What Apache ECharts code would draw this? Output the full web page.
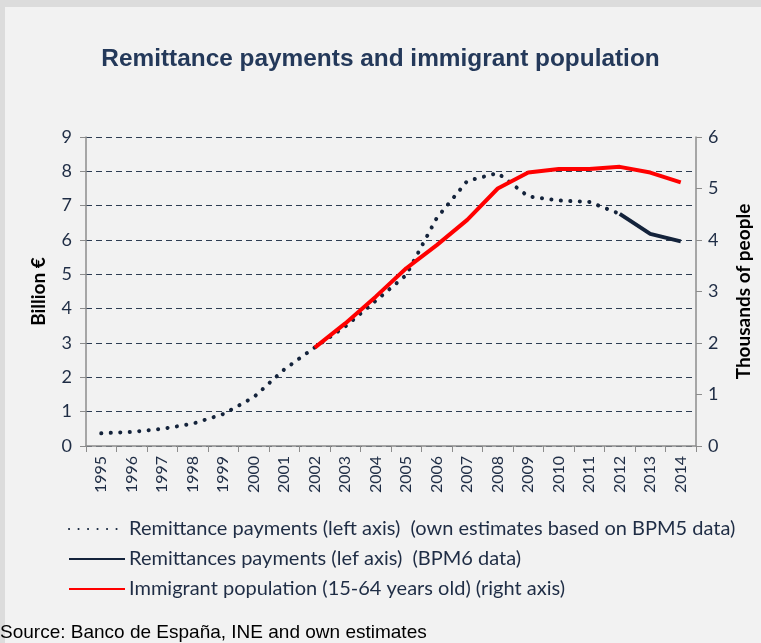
<!DOCTYPE html>
<html>
<head>
<meta charset="utf-8">
<script src="https://cdn.jsdelivr.net/npm/echarts@6/dist/echarts.min.js"></script>
<style>
html,body{margin:0;padding:0;background:#dcdcdc;}
#card{position:absolute;left:5px;top:7px;width:756px;height:636px;background:#f2f2f2;}
#chart{position:absolute;left:0;top:0;width:761px;height:643px;}
</style>
</head>
<body>
<div id="card"></div>
<div id="chart"></div>
<script>
var years = ['1995','1996','1997','1998','1999','2000','2001','2002','2003','2004','2005','2006','2007','2008','2009','2010','2011','2012','2013','2014'];
var remitBPM5 = [0.37,0.41,0.50,0.65,0.93,1.42,2.23,2.87,3.48,4.23,4.98,6.64,7.72,7.95,7.27,7.15,7.11,6.76,null,null];
var remitBPM6 = [null,null,null,null,null,null,null,null,null,null,null,null,null,null,null,null,null,6.76,6.18,5.96];
var population = [null,null,null,null,null,null,null,1.91,2.38,2.90,3.45,3.90,4.39,5.00,5.31,5.38,5.38,5.42,5.31,5.12];
var leftTicks = [0,9,1];
var rightTicks = [0,6,1];
var names = ['Remittance payments (left axis)  (own estimates based on BPM5 data)','Remittances payments (lef axis)  (BPM6 data)','Immigrant population (15-64 years old) (right axis)'];

var navy = '#14233b';
var textCol = '#1f2d45';
var font = 'Lato, "Noto Sans", sans-serif';
var chart = echarts.init(document.getElementById('chart'));
chart.setOption({
  backgroundColor: 'transparent',
  animation: false,
  title: {
    text: 'Remittance payments and immigrant population',
    left: 'center', top: 42,
    textStyle: {fontFamily: '"Liberation Sans", Arial, sans-serif', fontWeight: 'bold', fontSize: 24.4, color: '#24395a'}
  },
  grid: {left: 86, right: 64, top: 137, bottom: 197, containLabel: false},
  legend: {
    orient: 'vertical', left: 63, top: 514, itemWidth: 56, itemHeight: 24, itemGap: 6,
    textStyle: {fontFamily: font, fontSize: 20, color: textCol, padding: [0,0,0,-1]},
    itemStyle: {opacity: 0},
    itemGap: 10,
    data: names
  },
  xAxis: {
    type: 'category', data: years, boundaryGap: true,
    axisLine: {lineStyle: {color: '#8c8c8c', width: 1.5}},
    axisTick: {show: true, alignWithLabel: false, length: 6, lineStyle: {color: '#8c8c8c'}},
    axisLabel: {rotate: 90, fontFamily: font, fontSize: 16, color: textCol, margin: 10, interval: 0}
  },
  yAxis: [{
    type: 'value', min: leftTicks[0], max: leftTicks[1], interval: leftTicks[2], position: 'left',
    name: 'Billion €', nameLocation: 'middle', nameRotate: 90, nameGap: 38,
    nameTextStyle: {fontFamily: font, fontWeight: 'bold', fontSize: 19, color: '#000'},
    axisLine: {show: true, lineStyle: {color: '#8c8c8c', width: 1.5}},
    axisTick: {show: true, length: 6, lineStyle: {color: '#8c8c8c'}},
    axisLabel: {fontFamily: font, fontSize: 18, color: textCol, margin: 14},
    splitLine: {show: true, lineStyle: {color: '#2e3d52', width: 1, type: [6, 4]}}
  }, {
    type: 'value', min: rightTicks[0], max: rightTicks[1], interval: rightTicks[2], position: 'right',
    name: 'Thousands of people', nameLocation: 'middle', nameRotate: 90, nameGap: 38,
    nameTextStyle: {fontFamily: font, fontWeight: 'bold', fontSize: 19, color: '#000'},
    axisLine: {show: true, lineStyle: {color: '#8c8c8c', width: 1.5}},
    axisTick: {show: true, length: 6, lineStyle: {color: '#8c8c8c'}},
    axisLabel: {fontFamily: font, fontSize: 18, color: textCol, margin: 12},
    splitLine: {show: false}
  }],
  series: [{
    name: names[0], type: 'line', yAxisIndex: 0, data: remitBPM5, showSymbol: false, symbol: 'none',
    lineStyle: {color: navy, width: 4, type: [0.1, 9.4], cap: 'round'}, itemStyle: {color: navy}, z: 3
  }, {
    name: names[1], type: 'line', yAxisIndex: 0, data: remitBPM6, showSymbol: false, symbol: 'none',
    lineStyle: {color: navy, width: 4}, itemStyle: {color: navy}, z: 4
  }, {
    name: names[2], type: 'line', yAxisIndex: 1, data: population, showSymbol: false, symbol: 'none',
    lineStyle: {color: '#ff0000', width: 4}, itemStyle: {color: '#ff0000'}, z: 5
  }],
  graphic: [{
    type: 'text', left: 0, top: 623,
    style: {text: 'Source: Banco de España, INE and own estimates', fontFamily: '"Liberation Sans", Arial, sans-serif', fontSize: 19, fill: '#000'}
  }]
});
</script>
</body>
</html>
